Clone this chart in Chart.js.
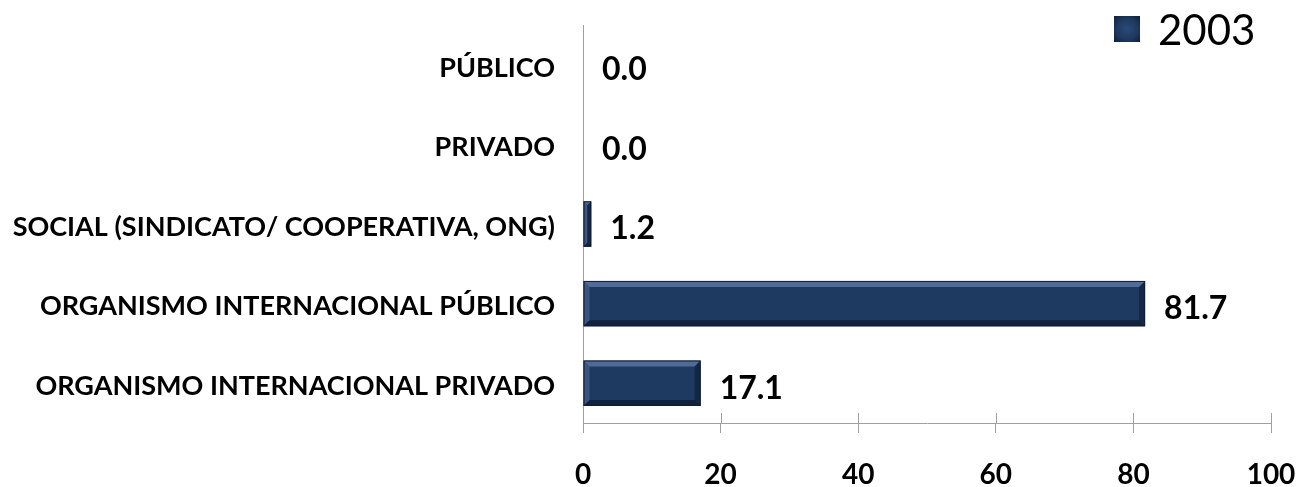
<!DOCTYPE html>
<html>
<head>
<meta charset="utf-8">
<title>Distribución 2003</title>
<script src="https://cdn.jsdelivr.net/npm/chart.js@4.4.0/dist/chart.umd.min.js"></script>
<style>
  html, body { margin: 0; padding: 0; background: #fff; }
  #wrap { position: relative; width: 1302px; height: 487px; }
  #legend { position: absolute; top: 4px; left: 1114px; }
  #legend ul { list-style: none; margin: 0; padding: 0; display: flex; }
  #legend li { display: inline-flex; align-items: center; }
  #legend .box { display: block; width: 26px; height: 26px; margin-right: 18px; }
  #legend .txt { font-family: Lato, sans-serif; font-size: 42px; color: #000; }
</style>
</head>
<body>
<div id="wrap">
  <canvas id="chart" width="1302" height="487"></canvas>
  <div id="legend"><ul></ul></div>
</div>
<script>
// Categories, top to bottom
const categories = [
  'PÚBLICO',
  'PRIVADO',
  'SOCIAL (SINDICATO/ COOPERATIVA, ONG)',
  'ORGANISMO INTERNACIONAL PÚBLICO',
  'ORGANISMO INTERNACIONAL PRIVADO',
];
const seriesLabel = '2003';
const values2003 = [0.0, 0.0, 1.2, 81.7, 17.1];
const xTicks = [0, 20, 40, 60, 80, 100];

const FONT = 'Lato, sans-serif';
const barColor = '#1f3a61';

// Bevel look on each bar: light upper rim, dark lower rim
const bevelPlugin = {
  id: 'bevel',
  afterDatasetsDraw(c) {
    const { ctx } = c;
    c.getDatasetMeta(0).data.forEach((bar) => {
      const left = bar.base;
      const right = bar.x;
      const w = right - left;
      if (w < 1) return;
      const top = bar.y - bar.height / 2;
      const h = bar.height;
      const e = Math.min(6, w / 2);
      ctx.save();
      // top rim
      ctx.fillStyle = 'rgba(120,150,195,0.55)';
      ctx.beginPath();
      ctx.moveTo(left, top); ctx.lineTo(right, top);
      ctx.lineTo(right - e, top + e); ctx.lineTo(left + e, top + e);
      ctx.closePath(); ctx.fill();
      // left rim
      ctx.fillStyle = 'rgba(90,120,165,0.45)';
      ctx.beginPath();
      ctx.moveTo(left, top); ctx.lineTo(left + e, top + e);
      ctx.lineTo(left + e, top + h - e); ctx.lineTo(left, top + h);
      ctx.closePath(); ctx.fill();
      // bottom rim
      ctx.fillStyle = 'rgba(8,18,35,0.6)';
      ctx.beginPath();
      ctx.moveTo(left, top + h); ctx.lineTo(right, top + h);
      ctx.lineTo(right - e, top + h - e); ctx.lineTo(left + e, top + h - e);
      ctx.closePath(); ctx.fill();
      // right rim
      ctx.fillStyle = 'rgba(10,22,42,0.5)';
      ctx.beginPath();
      ctx.moveTo(right, top); ctx.lineTo(right - e, top + e);
      ctx.lineTo(right - e, top + h - e); ctx.lineTo(right, top + h);
      ctx.closePath(); ctx.fill();
      ctx.strokeStyle = '#0e1d33';
      ctx.lineWidth = 1;
      ctx.strokeRect(left + 0.5, top + 0.5, w - 1, h - 1);
      ctx.restore();
    });
  },
};

// Value labels to the right of each bar
const valueLabels = {
  id: 'valueLabels',
  afterDatasetsDraw(c) {
    const { ctx } = c;
    const ds = c.data.datasets[0];
    ctx.save();
    ctx.font = `bold 32px ${FONT}`;
    ctx.fillStyle = '#000';
    ctx.textAlign = 'left';
    ctx.textBaseline = 'middle';
    c.getDatasetMeta(0).data.forEach((bar, i) => {
      ctx.fillText(ds.data[i].toFixed(1), bar.x + 19, bar.y + 5);
    });
    ctx.restore();
  },
};

// Cross-style tick marks: extend each x tick above the axis line
const crossTicks = {
  id: 'crossTicks',
  afterDraw(c) {
    const { ctx } = c;
    const x = c.scales.x;
    ctx.save();
    ctx.strokeStyle = '#a0a0a0';
    ctx.lineWidth = 1;
    x.ticks.forEach((t) => {
      const px = Math.round(x.getPixelForValue(t.value)) + 0.5;
      ctx.beginPath();
      ctx.moveTo(px, x.top - 10);
      ctx.lineTo(px, x.top);
      ctx.stroke();
    });
    ctx.restore();
  },
};

const htmlLegend = {
  id: 'htmlLegend',
  afterUpdate(c) {
    const ul = document.querySelector('#legend ul');
    while (ul.firstChild) ul.firstChild.remove();
    c.options.plugins.legend.labels.generateLabels(c).forEach((item) => {
      const li = document.createElement('li');
      const box = document.createElement('span');
      box.className = 'box';
      box.style.background = 'radial-gradient(ellipse at center, #2a4a78 0%, #1f3a61 55%, #0f1f38 100%)';
      const label = document.createElement('span');
      label.className = 'txt';
      label.textContent = item.text;
      li.appendChild(box);
      li.appendChild(label);
      ul.appendChild(li);
    });
  },
};

new Chart(document.getElementById('chart'), {
  type: 'bar',
  data: {
    labels: categories,
    datasets: [{
      label: seriesLabel,
      data: values2003,
      backgroundColor: barColor,
      borderWidth: 0,
      categoryPercentage: 0.57,
      barPercentage: 1,
    }],
  },
  options: {
    indexAxis: 'y',
    responsive: false,
    animation: false,
    layout: { padding: { top: 25, right: 31, left: 0, bottom: 0 } },
    scales: {
      y: {
        grid: { display: false, drawTicks: false },
        border: { display: true, color: '#a0a0a0', width: 1 },
        ticks: {
          padding: 28,
          labelOffset: 3,
          color: '#000',
          font: { family: FONT, size: 27, weight: 'bold' },
        },
        afterFit(scale) {
          scale.width = 583;
          scale.paddingTop = 0;
          scale.paddingBottom = 0;
        },
      },
      x: {
        min: 0,
        max: 100,
        afterBuildTicks(scale) { scale.ticks = xTicks.map((v) => ({ value: v })); },
        grid: { drawOnChartArea: false, drawTicks: true, tickLength: 10, color: '#a0a0a0' },
        border: { display: true, color: '#a0a0a0', width: 1 },
        ticks: {
          padding: 25,
          color: '#000',
          font: { family: FONT, size: 28, weight: 'bold' },
        },
        afterFit(scale) {
          scale.height = 64;
          scale.paddingLeft = 0;
          scale.paddingRight = 0;
        },
      },
    },
    plugins: {
      legend: { display: false },
      tooltip: { enabled: false },
    },
  },
  plugins: [bevelPlugin, valueLabels, crossTicks, htmlLegend],
});
</script>
</body>
</html>
